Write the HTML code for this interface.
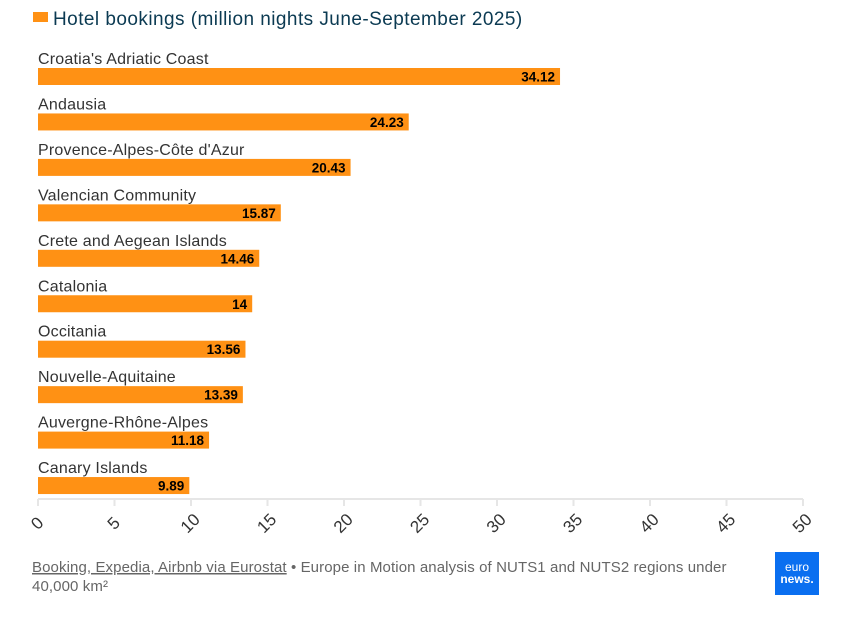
<!DOCTYPE html>
<html><head><meta charset="utf-8"><style>
body{margin:0;background:#fff;font-family:"Liberation Sans","DejaVu Sans",sans-serif;}
#wrap{position:relative;width:841px;height:617px;overflow:hidden;}
</style></head><body><div id="wrap">
<svg id="chart" width="841" height="617">
<rect x="33" y="12" width="15" height="10" fill="#ff9114"/>
<text x="53" y="25" font-size="19" letter-spacing="0.45" fill="#0b3a52">Hotel bookings (million nights June-September 2025)</text>
<g id="bars"></g>
<g id="axis"></g>
<text x="32" y="572" font-size="15" letter-spacing="0.1" fill="#666"><tspan text-decoration="underline">Booking, Expedia, Airbnb via Eurostat</tspan> • Europe in Motion analysis of NUTS1 and NUTS2 regions under</text>
<text x="32" y="591" font-size="15" letter-spacing="0.1" fill="#666">40,000 km²</text>
<g>
<rect x="775" y="552" width="44" height="43" fill="#0a6ff0"/>
<text x="797" y="571" font-size="12" fill="#fff" text-anchor="middle">euro</text>
<text x="797" y="583" font-size="12" font-weight="bold" fill="#fff" text-anchor="middle">news.</text>
</g>
</svg>
<script>
const categories=["Croatia's Adriatic Coast","Andausia","Provence-Alpes-Côte d'Azur","Valencian Community","Crete and Aegean Islands","Catalonia","Occitania","Nouvelle-Aquitaine","Auvergne-Rhône-Alpes","Canary Islands"];
const values=[34.12,24.23,20.43,15.87,14.46,14,13.56,13.39,11.18,9.89];
const labels=["34.12","24.23","20.43","15.87","14.46","14","13.56","13.39","11.18","9.89"];
const ticks=[0,5,10,15,20,25,30,35,40,45,50];
const NS="http://www.w3.org/2000/svg";
const x0=38,x1=803,xmax=50;
function xs(v){return x0+(x1-x0)*v/xmax;}
function ys(i){return 68+i*45.45;}
function mk(t,a,txt){const e=document.createElementNS(NS,t);for(const k in a)e.setAttribute(k,a[k]);if(txt!=null)e.textContent=txt;return e;}
const gb=document.getElementById('bars');
values.forEach((v,i)=>{
 const y=ys(i);
 const l=mk('text',{x:38,y:y-4,'font-size':16,'letter-spacing':0.2,fill:'#333'},categories[i]);
 
 
 gb.appendChild(l);
 const r=mk('rect',{x:x0,y:y,width:xs(v)-x0,height:17,fill:'#ff9114'});
 
 
 gb.appendChild(r);
 const t=mk('text',{x:xs(v)-5,y:y+13.5,'font-size':13.5,'font-weight':'bold',fill:'#000','text-anchor':'end'},labels[i]);
 
 
 gb.appendChild(t);
});
const ga=document.getElementById('axis');
const ln=mk('line',{x1:x0,x2:x1,y1:499,y2:499,stroke:'#e6e6e6','stroke-width':2});


ga.appendChild(ln);
ticks.forEach(v=>{
 const x=xs(v);
 const tk=mk('line',{x1:x,x2:x,y1:499,y2:506,stroke:'#e6e6e6','stroke-width':2});
 
 
 ga.appendChild(tk);
 const cx=x-1, cy=523;
 const t=mk('text',{x:cx,y:cy+6,'font-size':17,fill:'#333','text-anchor':'middle',transform:`rotate(-45 ${cx} ${cy})`},String(v));
 
 
 ga.appendChild(t);
});
</script>
</div></body></html>
